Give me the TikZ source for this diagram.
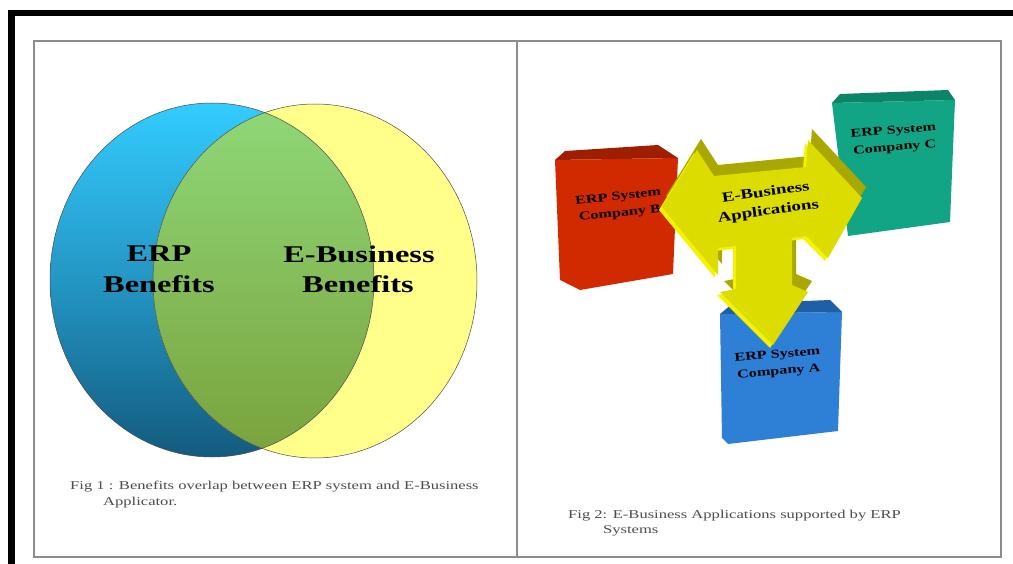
\documentclass[tikz,border=0pt]{standalone}
\usepackage{fontspec}
\setmainfont{Liberation Serif}
\usepackage{graphicx}
\definecolor{blueTop}{HTML}{33CCFF}
\definecolor{blueMid}{HTML}{2496C4}
\definecolor{blueBot}{HTML}{135B7E}
\definecolor{yellowFill}{HTML}{FFFF8A}
\definecolor{greenTop}{HTML}{8FD878}
\definecolor{greenBot}{HTML}{7AA23C}
\definecolor{redFront}{HTML}{D22A00}
\definecolor{redTop}{HTML}{A01E00}
\definecolor{tealFront}{HTML}{12A585}
\definecolor{tealTop}{HTML}{0B8468}
\definecolor{bboxFront}{HTML}{2E80D6}
\definecolor{bboxTop}{HTML}{1F5FA6}
\definecolor{arrowFront}{HTML}{DCDC00}
\definecolor{arrowDark}{HTML}{A8A800}
\definecolor{arrowLight}{HTML}{F4F400}
\newcommand\hstretch[1]{\scalebox{1.35}[1]{#1}}
\newcommand\twolines[2]{\hstretch{\begin{tabular}{@{}c@{}}#1\\#2\end{tabular}}}
\tikzset{
  bigtxt/.style={font=\fontsize{24}{30}\selectfont\bfseries, inner sep=0pt},
  captxt/.style={font=\fontsize{12}{12}\selectfont, text=black!70, inner sep=0pt, anchor=west},
  boxtxt/.style={font=\fontsize{12}{16}\selectfont\bfseries, inner sep=0pt},
  arrtxt/.style={font=\fontsize{14}{18}\selectfont\bfseries, inner sep=0pt},
  tableline/.style={draw=black!45, line width=1.5pt},
  venn/.style={draw=black!70, line width=0.5pt},
}
\begin{document}
\begin{tikzpicture}[x=1pt, y=-1pt]
\renewcommand{\arraystretch}{1.05}
\useasboundingbox (0,0) rectangle (1013,564);
\fill[white] (0,0) rectangle (1013,564);
% outer thick frame
\draw[line width=6.5pt] (11.5,580) -- (11.5,13) -- (1030,13);
% table
\draw[tableline] (34,41) rectangle (1001,557);
\draw[tableline] (517,41) -- (517,557);

% ---------- Venn ----------
\shade[top color=blueTop, bottom color=blueBot, middle color=blueMid] (212,280) ellipse [x radius=162, y radius=177];
\fill[yellowFill] (315,281) ellipse [x radius=162, y radius=177];
\begin{scope}
  \clip (212,280) ellipse [x radius=162, y radius=177];
  \shade[top color=greenTop, bottom color=greenBot] (315,281) ellipse [x radius=162, y radius=177];
\end{scope}
\draw[venn] (212,280) ellipse [x radius=162, y radius=177];
\draw[venn] (315,281) ellipse [x radius=162, y radius=177];
\node[bigtxt] (erp1) at (159,254) {\hstretch{ERP}};
\node[bigtxt] (erp2) at (159,284) {\hstretch{Benefits}};
\node[bigtxt] (eb1) at (359,254) {\hstretch{E-Business}};
\node[bigtxt] (eb2) at (358,284) {\hstretch{Benefits}};
\node[captxt] (cap1a) at (70,487) {\scalebox{1.38}[1]{Fig 1 : Benefits overlap between ERP system and E-Business}};
\node[captxt] (cap1b) at (103,503) {\scalebox{1.38}[1]{Applicator.}};

% ---------- Boxes ----------
% red (B)
\fill[redFront] (555,160) -- (678,158) -- (673,274) -- (580,290) -- (560,280) -- cycle;
\fill[redTop] (555,160) -- (565,151) -- (658,145) -- (678,158) -- cycle;
\node[boxtxt, rotate=6] (boxB) at (619,205) {\twolines{ERP System}{Company B}};
% teal (C)
\fill[tealFront] (832,103) -- (955,100) -- (950,222) -- (848,236) -- cycle;
\fill[tealTop] (832,103) -- (840,94) -- (948,90) -- (955,100) -- cycle;
\node[boxtxt, rotate=5] (boxC) at (894,139) {\twolines{ERP System}{Company C}};
% blue (A)
\fill[bboxFront] (720,314) -- (842,312) -- (838,431) -- (728,444) -- (722,438) -- cycle;
\fill[bboxTop] (720,314) -- (732,304) -- (830,300) -- (842,312) -- cycle;
\node[boxtxt, rotate=5] (boxA) at (778,363) {\twolines{ERP System}{Company A}};

% ---------- 3D T-arrow ----------
\foreach \dx/\dy/\c in {4/-11/arrowDark, -3/3/arrowLight, 0/0/arrowFront}{
  \fill[\c, shift={(\dx,\dy)}] (662,207) -- (697,150) -- (714,176) -- (806,167)
    -- (808,140) -- (862,198) -- (828,258) -- (806,236) -- (792,238)
    -- (792,285) -- (808,292) -- (773,345) -- (720,292) -- (736,289)
    -- (736,246) -- (718,248) -- (718,275) -- cycle;
}
\node[arrtxt, rotate=8] (ebapp) at (767,202) {\twolines{E-Business}{Applications}};

\node[captxt] (cap2a) at (568,516) {\scalebox{1.38}[1]{Fig 2: E-Business Applications supported by ERP}};
\node[captxt] (cap2b) at (603,531) {\scalebox{1.38}[1]{Systems}};
\end{tikzpicture}
\end{document}
